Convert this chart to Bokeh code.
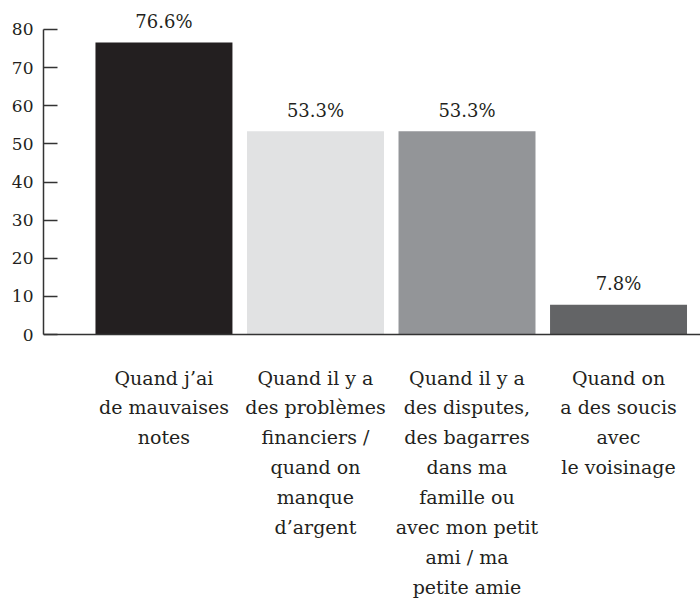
from bokeh.plotting import figure
from bokeh.models import Range1d, LinearAxis, FixedTicker, Span, ColumnDataSource
from bokeh.core.properties import value
from bokeh.embed import file_html
from bokeh.resources import INLINE

categories = [
    "Quand j\u2019ai\nde mauvaises\nnotes",
    "Quand il y a\ndes probl\u00e8mes\nfinanciers /\nquand on\nmanque\nd\u2019argent",
    "Quand il y a\ndes disputes,\ndes bagarres\ndans ma\nfamille ou\navec mon petit\nami / ma\npetite amie",
    "Quand on\na des soucis\navec\nle voisinage",
]
values = [76.6, 53.3, 53.3, 7.8]
value_labels = ["76.6%", "53.3%", "53.3%", "7.8%"]
colors = ["#231f20", "#e1e2e3", "#939598", "#636466"]
y_ticks = [0, 10, 20, 30, 40, 50, 60, 70, 80]

FONT = "DejaVu Serif"
TXT = "#231f20"

xs = list(range(len(categories)))
src = ColumnDataSource(dict(x=xs, top=values, color=colors, lab=value_labels,
                            cat=categories, zero=[0] * len(xs)))

p = figure(width=700, height=604, output_backend="svg", toolbar_location=None,
           x_range=Range1d(-0.795, 3.541), y_range=Range1d(-70.8, 87.6),
           min_border_left=43, min_border_right=0, min_border_top=0, min_border_bottom=0,
           x_axis_location=None, y_axis_location=None, outline_line_color=None)
p.xgrid.visible = False
p.ygrid.visible = False

yaxis = LinearAxis(ticker=FixedTicker(ticks=y_ticks), bounds=(0, 80),
                   major_tick_in=14, major_tick_out=0,
                   minor_tick_line_color=None,
                   axis_line_color="#333333", axis_line_width=1.5,
                   major_tick_line_color="#333333", major_tick_line_width=1.5,
                   major_label_text_font=FONT, major_label_text_font_size="17px",
                   major_label_text_color=TXT, major_label_standoff=10)
p.add_layout(yaxis, "left")

p.vbar(x="x", top="top", bottom=0, width=0.904, fill_color="color", line_color=None, source=src)

p.add_layout(Span(location=0, dimension="width", line_color="#333333", line_width=1.5))

p.text(x="x", y="top", text="lab", source=src, text_align="center",
       text_baseline="alphabetic", y_offset=-21, text_font=value(FONT),
       text_font_size="18px", text_color=TXT)

p.text(x="x", y="zero", text="cat", source=src, text_align="center",
       text_baseline="top", y_offset=32, text_line_height=1.36,
       text_font=value(FONT), text_font_size="19px", text_color=TXT)

open("out.html", "w").write(file_html(p, INLINE))
